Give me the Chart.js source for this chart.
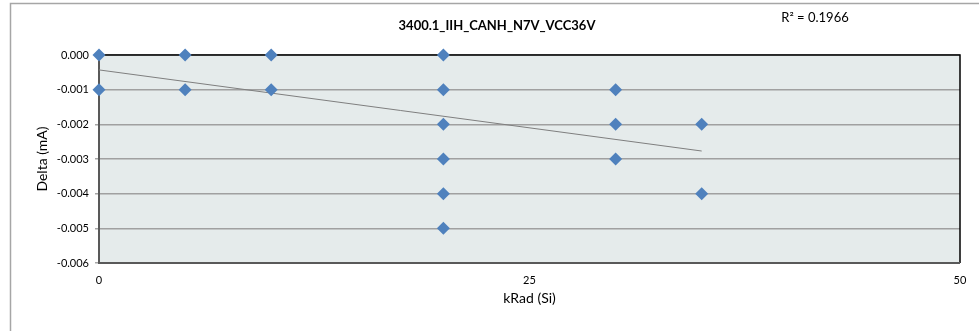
<!DOCTYPE html>
<html><head><meta charset="utf-8">
<script src="https://cdn.jsdelivr.net/npm/chart.js@4/dist/chart.umd.min.js"></script>
<style>html,body{margin:0;padding:0;background:#fff;}#wrap{width:979px;height:331px;}</style>
</head><body><div id="wrap"><canvas id="c" width="979" height="331"></canvas></div>
<script>
const chartTitle = "3400.1_IIH_CANH_N7V_VCC36V";
const rSquaredLabel = "R² = 0.1966";
const xAxisTitle = "kRad (Si)";
const yAxisTitle = "Delta (mA)";
const doseKrad = [0, 0, 5, 5, 10, 10, 20, 20, 20, 20, 20, 20, 30, 30, 30, 35, 35];
const deltaMA  = [0, -0.001, 0, -0.001, 0, -0.001, 0, -0.001, -0.002, -0.003, -0.004, -0.005, -0.001, -0.002, -0.003, -0.002, -0.004];
const trendX = [0, 35];
const trendY = [-0.00043, -0.00277];
const xTicks = [0, 25, 50];
const yMin = -0.006, yMax = 0, yStep = 0.001;

const FONT = "Lato, 'Liberation Sans', sans-serif";
const points = doseKrad.map((x, i) => ({x, y: deltaMA[i]}));
const trend = trendX.map((x, i) => ({x, y: trendY[i]}));

const framePlugin = {
  id: 'frame',
  beforeDraw(chart) {
    const {ctx, chartArea: a} = chart;
    ctx.save();
    ctx.fillStyle = '#ffffff';
    ctx.fillRect(0, 0, chart.width, chart.height);
    ctx.strokeStyle = '#a6a6a6';
    ctx.lineWidth = 1.5;
    ctx.strokeRect(10.5, 3.5, chart.width + 10, chart.height + 10);
    ctx.fillStyle = '#e5ebeb';
    ctx.fillRect(a.left, a.top, a.right - a.left, a.bottom - a.top);
    ctx.restore();
  },
  beforeDatasetsDraw(chart) {
    const {ctx, chartArea: a} = chart;
    ctx.save();
    ctx.lineWidth = 1.5;
    ctx.strokeStyle = '#000000';
    ctx.beginPath();
    ctx.moveTo(a.left, a.top); ctx.lineTo(a.right, a.top); ctx.lineTo(a.right, a.bottom);
    ctx.stroke();
    ctx.lineWidth = 2;
    ctx.strokeStyle = '#595959';
    ctx.beginPath();
    ctx.moveTo(a.left, a.top); ctx.lineTo(a.left, a.bottom); ctx.lineTo(a.right, a.bottom);
    ctx.stroke();
    ctx.restore();
  },
  afterDraw(chart) {
    const {ctx} = chart;
    ctx.save();
    ctx.fillStyle = '#000';
    ctx.textAlign = 'center';
    ctx.textBaseline = 'middle';
    ctx.font = "bold 13px " + FONT;
    ctx.fillText(chartTitle, 497, 26);
    ctx.font = "13px " + FONT;
    ctx.fillText(rSquaredLabel, 815, 18);
    ctx.restore();
  }
};

new Chart(document.getElementById('c'), {
  type: 'scatter',
  data: {
    datasets: [
      {
        data: points,
        pointStyle: 'rectRot',
        pointRadius: 6.5,
        pointHoverRadius: 6.5,
        backgroundColor: '#4f81bd',
        borderColor: '#4f81bd',
        borderWidth: 0,
        clip: false,
        order: 1
      },
      {
        type: 'line',
        data: trend,
        borderColor: '#7f7f7f',
        borderWidth: 1,
        pointRadius: 0,
        fill: false,
        order: 2
      }
    ]
  },
  plugins: [framePlugin],
  options: {
    responsive: false,
    animation: false,
    events: [],
    layout: { padding: { left: 34, right: 19, top: 55, bottom: 20 } },
    plugins: { legend: { display: false }, title: { display: false }, tooltip: { enabled: false } },
    scales: {
      x: {
        type: 'linear',
        min: 0, max: 50,
        afterBuildTicks(scale) { scale.ticks = xTicks.map(v => ({value: v})); },
        afterFit(scale) { scale.height = 48; },
        grid: { display: false, drawTicks: true, tickLength: 4, tickColor: '#a6a6a6' },
        border: { display: false },
        ticks: { color: '#000', font: { family: FONT, size: 11 }, padding: 7, maxRotation: 0 },
        title: { display: true, text: xAxisTitle, color: '#000', font: { family: FONT, size: 14 }, padding: { top: 4 } }
      },
      y: {
        min: yMin, max: yMax,
        afterFit(scale) { scale.width = 65; },
        ticks: { stepSize: yStep, color: '#000', font: { family: FONT, size: 11 }, padding: 6,
          callback: v => (Math.abs(v) < 1e-12 ? 0 : v).toFixed(3) },
        grid: { color: '#a0a0a0', lineWidth: 1.5, tickLength: 4, tickColor: '#a6a6a6' },
        border: { display: false },
        title: { display: true, text: yAxisTitle, color: '#000', font: { family: FONT, size: 14 }, padding: { top: 0, bottom: 0 } }
      }
    }
  }
});
</script></body></html>
